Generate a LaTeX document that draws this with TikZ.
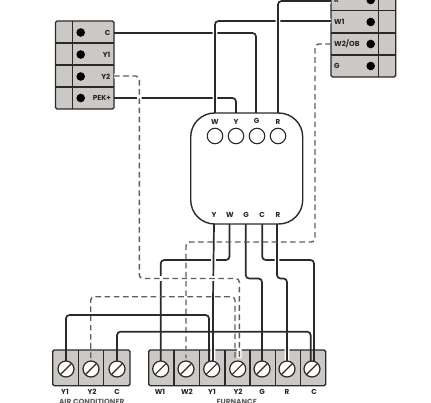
\documentclass[tikz,border=0pt]{standalone}
\usepackage{fontspec}
\setmainfont{Poppins}
\definecolor{blk}{HTML}{2A2A2A}
\definecolor{pan}{HTML}{CBC8C5}
\definecolor{dsh}{HTML}{5E5E5E}
\tikzset{
  wire/.style={draw=blk,line width=1.7pt,rounded corners=3.5pt},
  hwire/.style={wire,preaction={draw=white,line width=4.6pt}},
  dwire/.style={draw=dsh,line width=1.4pt,rounded corners=3.5pt,dash pattern=on 5.6pt off 3.6pt},
  hdwire/.style={dwire,preaction={draw=white,line width=4.6pt,dash pattern=on 100pt off 0pt}},
  panel/.style={draw=blk,line width=1.4pt,fill=pan,rounded corners=1.5pt},
  rowline/.style={draw=blk,line width=1.3pt},
  dot/.style={circle,fill=black,inner sep=0pt,minimum size=8.6pt},
  screw/.style={circle,draw=blk,line width=1.2pt,fill=white,inner sep=0pt,minimum size=16pt,path picture={\draw[blk,line width=1.1pt] (path picture bounding box.south west)--(path picture bounding box.north east);}},
  pinring/.style={circle,draw=blk,line width=1.1pt,inner sep=0pt,minimum size=15.5pt},
  lab/.style={font=\fontsize{7.2}{8}\selectfont\bfseries,text=black!85,inner sep=0pt},
  captext/.style={font=\fontsize{7.4}{8}\selectfont\bfseries,text=dsh,inner sep=0pt},
  module/.style={draw=blk,line width=1.4pt,rounded corners=24pt}
}
\begin{document}
\begin{tikzpicture}[x=1pt,y=-1pt]
\useasboundingbox (0,0) rectangle (431,402);
\clip (0,0) rectangle (431,402);
% named ends
\foreach \n/\x/\y in {tC/114/33,tYtwo/114/76,tPek/114/98,rR/331/1,rW/331/21,rW2/331/44,
  mW/215/113,mY/236/113,mG/256/113,mR/278/113,
  bY/214/224,bW/229.5/224,bG/245.7/224,bC/262.2/224,bR/277/224,
  aYa/66/362,aYb/90.7/358,aC/117/362,
  fW/160.7/362,fWb/186/358,fYa/209/362,fYb/213/362,fYc/235/358,fYd/239.3/358,fG/262/362,fR/287/362,fCa/310.7/362,fCb/314/362}
  {\coordinate (\n) at (\x,\y);}
% panels
\path[panel] (55.5,21) rectangle (114,109);
\foreach \y in {43,65,87} \draw[rowline] (55.5,\y)--(114,\y);
\draw[rowline] (72.7,21)--(72.7,109);
\node[dot] (dl1) at (80.7,32.5) {};
\node[dot] (dl2) at (80.7,54.5) {};
\node[dot] (dl3) at (80.7,76.5) {};
\node[dot] (dl4) at (80.7,98) {};
\node[lab,anchor=east] (lC) at (110.5,32.5) {C};
\node[lab,anchor=east] (lYa) at (110.5,54.5) {Y1};
\node[lab,anchor=east] (lYb) at (110.5,76.5) {Y2};
\node[lab,anchor=east] (lP) at (111,98) {PEK+};
\path[panel] (331,-12) rectangle (395.7,77);
\foreach \y in {10.5,33,55} \draw[rowline] (331,\y)--(395.7,\y);
\draw[rowline] (378.7,-12)--(378.7,77);
\node[dot] (dr1) at (370.7,0) {};
\node[dot] (dr2) at (370.7,22) {};
\node[dot] (dr3) at (370.7,44) {};
\node[dot] (dr4) at (370.7,66) {};
\node[lab,anchor=west] (lR) at (334,0) {R};
\node[lab,anchor=west] (lWa) at (334,22) {W1};
\node[lab,anchor=west] (lWb) at (334,44) {W2/OB};
\node[lab,anchor=west] (lG) at (334,66) {G};
% terminal strips
\path[panel] (52.7,350) rectangle (130,385.7);
\foreach \x in {78.3,103.7} \draw[rowline] (\x,350)--(\x,385.7);
\path[panel] (148.7,350) rectangle (325.7,385.7);
\foreach \x in {174,199.3,225,250,275.7,300.3} \draw[rowline] (\x,350)--(\x,385.7);
% lower wires
\draw[wire] (bW)--(229.5,260)--(160.7,260)--(fW);
\draw[wire] (bC)--(262.2,260)--(314,260)--(fCb);
\draw[wire] (bG)--(245.7,278.5)--(262,278.5)--(fG);
\draw[hwire] (bY)--(213,300)--(fYb);
\draw[hwire] (bR)--(277,278.5)--(287,278.5)--(fR);
% upper wires
\draw[wire] (tC)--(256,33)--(mG);
\draw[wire] (tPek)--(236,98)--(mY);
\draw[hwire] (rW)--(215,21)--(mW);
\draw[hwire] (mR)--(278,1)--(rR);
% dashed
\draw[hdwire] (tYtwo)--(139.3,76)--(139.3,278.5)--(239.3,278.5)--(fYd);
\draw[dwire] (rW2)--(315,44)--(315,242)--(186,242)--(fWb);
\draw[dwire] (aYb)--(90.7,296.7)--(235,296.7)--(fYc);
% AC wires
\draw[wire] (aYa)--(66,315)--(209,315)--(fYa);
\draw[wire] (aC)--(117,331.7)--(310.7,331.7)--(fCa);
% module
\draw[module] (190.7,113) rectangle (302.7,224);
\node[pinring] (p1) at (215,136) {};
\node[pinring] (p2) at (236,136) {};
\node[pinring] (p3) at (257,136) {};
\node[pinring] (p4) at (278,136) {};
\node[lab] (tW) at (215,122) {W};
\node[lab] (tY) at (236,122) {Y};
\node[lab] (tG) at (256.5,121) {G};
\node[lab] (tR) at (278,122) {R};
\node[lab] (uY) at (214,215) {Y};
\node[lab] (uW) at (230,215) {W};
\node[lab] (uG) at (246,215) {G};
\node[lab] (uC) at (262,215) {C};
\node[lab] (uR) at (278,215) {R};
% screws
\foreach \n/\x in {s1/66,s2/91,s3/117,s4/160.7,s5/186,s6/211.7,s7/237.7,s8/262,s9/287,s10/312}
  \node[screw] (\n) at (\x,369) {};
% labels
\foreach \n/\x/\t in {a1/65/Y1,a2/92/Y2,a3/117/C,f1/160/W1,f2/187/W2,f3/212/Y1,f4/238/Y2,f5/262/G,f6/287/R,f7/314/C}
  \node[lab] (\n) at (\x,391.5) {\t};
\node[captext] (capA) at (91.7,402) {AIR CONDITIONER};
\node[captext] (capF) at (236.7,402) {FURNANCE};
\end{tikzpicture}
\end{document}
